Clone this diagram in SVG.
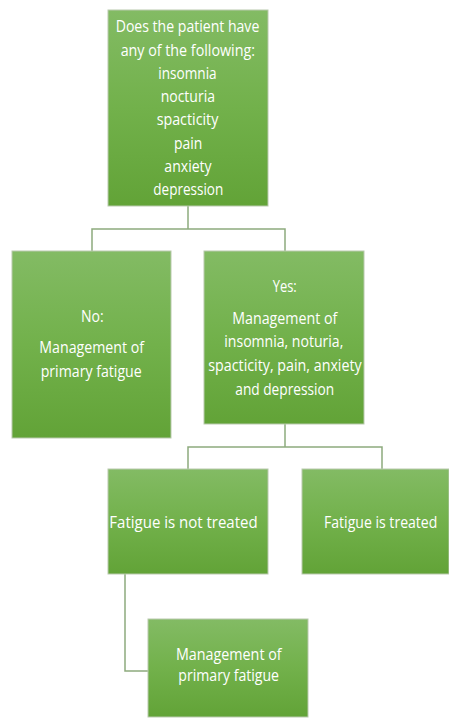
<svg xmlns="http://www.w3.org/2000/svg" width="449" height="719" viewBox="0 0 449 719">
  <defs>
    <linearGradient id="g" x1="0" y1="0" x2="0" y2="1">
      <stop offset="0" stop-color="#83bb64"/>
      <stop offset="0.5" stop-color="#72b14b"/>
      <stop offset="1" stop-color="#62a337"/>
    </linearGradient>
  </defs>
  <style>
    .box { fill: url(#g); stroke: #b9c9ae; stroke-width: 1; }
    .t { font-family: "Open Sans", "Liberation Sans", sans-serif; font-size: 16.5px; fill: #ffffff; text-anchor: middle; }
    .c { fill: none; stroke: #8dab7d; stroke-width: 1.5; }
  </style>
  <rect width="449" height="719" fill="#ffffff"/>
  <g id="connectors">
    <polyline class="c" points="188,206 188,229"/>
    <polyline class="c" points="92,251 92,229 285,229 285,251"/>
    <polyline class="c" points="285,424 285,447"/>
    <polyline class="c" points="188,469 188,447 382,447 382,469"/>
    <polyline class="c" points="125,574 125,671 148,671"/>
  </g>
  <g id="question">
    <rect class="box" x="108" y="10" width="160" height="196"/>
    <text class="t" x="187.5" y="32.3" textLength="143.6" lengthAdjust="spacingAndGlyphs">Does the patient have</text>
    <text class="t" x="187.8" y="55.5" textLength="134.3" lengthAdjust="spacingAndGlyphs">any of the following:</text>
    <text class="t" x="187.5" y="78.7" textLength="58.3" lengthAdjust="spacingAndGlyphs">insomnia</text>
    <text class="t" x="187.8" y="102" textLength="54.3" lengthAdjust="spacingAndGlyphs">nocturia</text>
    <text class="t" x="187.5" y="125.3" textLength="61.7" lengthAdjust="spacingAndGlyphs">spacticity</text>
    <text class="t" x="188.2" y="148.7" textLength="28.3" lengthAdjust="spacingAndGlyphs">pain</text>
    <text class="t" x="188" y="172" textLength="47.3" lengthAdjust="spacingAndGlyphs">anxiety</text>
    <text class="t" x="188.3" y="195.4" textLength="70" lengthAdjust="spacingAndGlyphs">depression</text>
  </g>
  <g id="no">
    <rect class="box" x="12" y="251" width="159" height="187"/>
    <text class="t" x="92.3" y="322.3" textLength="22.7" lengthAdjust="spacingAndGlyphs">No:</text>
    <text class="t" x="91.7" y="353.3" textLength="104.7" lengthAdjust="spacingAndGlyphs">Management of</text>
    <text class="t" x="91.2" y="376.7" textLength="101" lengthAdjust="spacingAndGlyphs">primary fatigue</text>
  </g>
  <g id="yes">
    <rect class="box" x="204" y="251" width="160" height="173"/>
    <text class="t" x="284.7" y="291.7" textLength="24" lengthAdjust="spacingAndGlyphs">Yes:</text>
    <text class="t" x="284.8" y="324" textLength="105" lengthAdjust="spacingAndGlyphs">Management of</text>
    <text class="t" x="283.8" y="347.3" textLength="119" lengthAdjust="spacingAndGlyphs">insomnia, noturia,</text>
    <text class="t" x="285" y="371" textLength="153.4" lengthAdjust="spacingAndGlyphs">spacticity, pain, anxiety</text>
    <text class="t" x="284.7" y="395" textLength="98.7" lengthAdjust="spacingAndGlyphs">and depression</text>
  </g>
  <g id="not-treated">
    <rect class="box" x="108" y="469" width="160" height="105"/>
    <text class="t" x="183.5" y="528.3" textLength="148.3" lengthAdjust="spacingAndGlyphs">Fatigue is not treated</text>
  </g>
  <g id="treated">
    <rect class="box" x="302" y="469" width="147" height="105"/>
    <text class="t" x="380.7" y="528.3" textLength="113.3" lengthAdjust="spacingAndGlyphs">Fatigue is treated</text>
  </g>
  <g id="primary-fatigue">
    <rect class="box" x="148" y="619" width="160" height="98"/>
    <text class="t" x="228.8" y="660" textLength="105.7" lengthAdjust="spacingAndGlyphs">Management of</text>
    <text class="t" x="228.7" y="681" textLength="100.7" lengthAdjust="spacingAndGlyphs">primary fatigue</text>
  </g>
</svg>
